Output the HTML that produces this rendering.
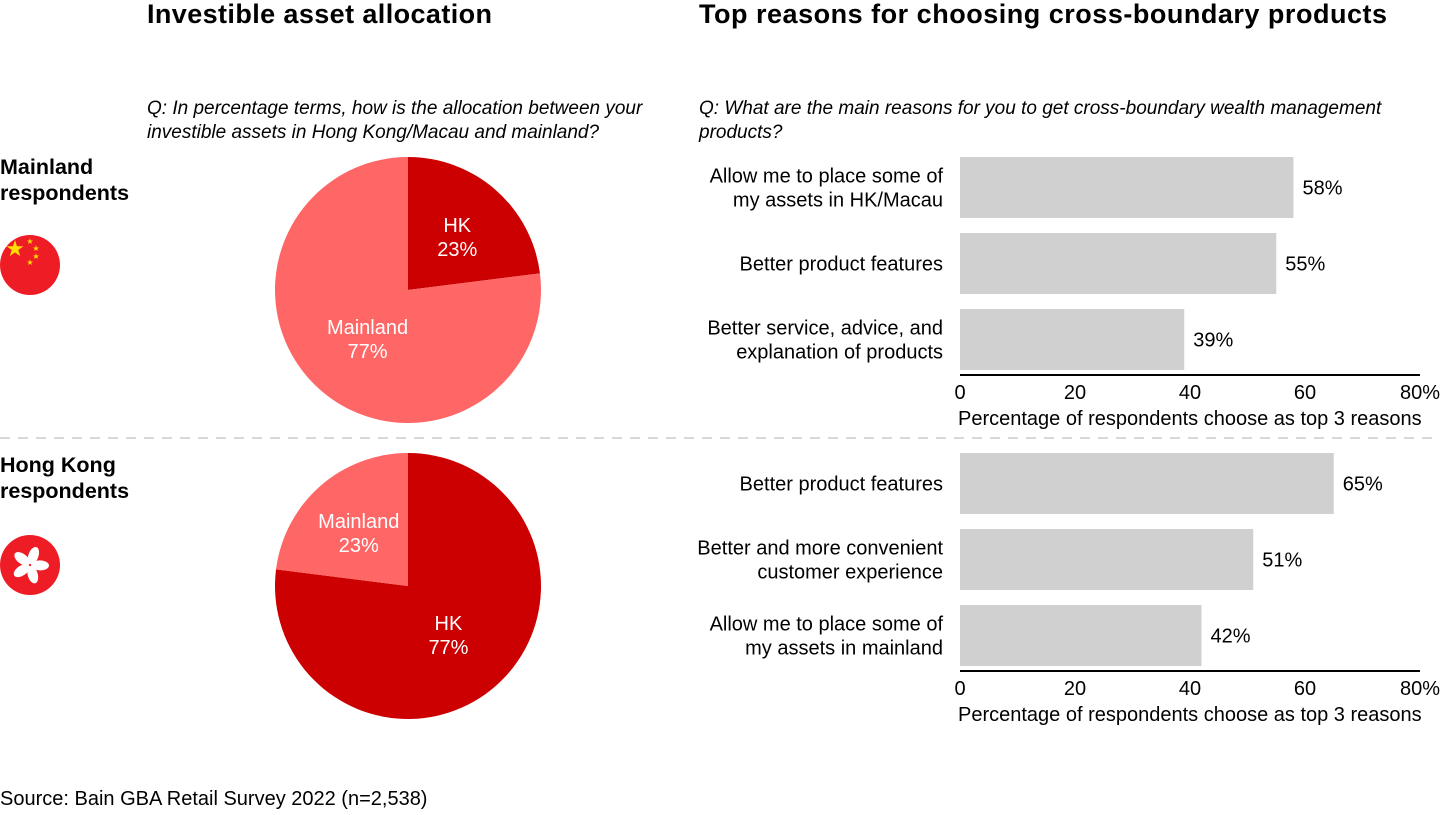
<!DOCTYPE html>
<html><head><meta charset="utf-8"><style>
body{margin:0;width:1440px;height:810px;background:#fff;font-family:"Liberation Sans",sans-serif;overflow:hidden}
svg text{font-family:"Liberation Sans",sans-serif}
</style></head><body>
<svg id="s" width="1440" height="810" xmlns="http://www.w3.org/2000/svg">
<text x="147" y="23" font-size="27" font-weight="bold" textLength="345">Investible asset allocation</text>
<text x="699" y="23" font-size="27" font-weight="bold" textLength="688">Top reasons for choosing cross-boundary products</text>
<text font-size="19" font-style="italic"><tspan x="147" y="114">Q: In percentage terms, how is the allocation between your</tspan><tspan x="147" y="138">investible assets in Hong Kong/Macau and mainland?</tspan></text>
<text font-size="19" font-style="italic"><tspan x="699" y="114">Q: What are the main reasons for you to get cross-boundary wealth management</tspan><tspan x="699" y="138">products?</tspan></text>
<text font-size="21.5" font-weight="bold"><tspan x="0" y="174">Mainland</tspan><tspan x="0" y="200">respondents</tspan></text>
<text font-size="21.5" font-weight="bold"><tspan x="0" y="472">Hong Kong</tspan><tspan x="0" y="498">respondents</tspan></text>
<g>
<circle cx="30" cy="265" r="30" fill="#ee1c25"/>
<text x="15" y="256" font-size="22" fill="#ffde00" text-anchor="middle">★</text>
<text x="30" y="244" font-size="8" fill="#ffde00" text-anchor="middle">★</text>
<text x="36" y="251" font-size="8" fill="#ffde00" text-anchor="middle">★</text>
<text x="36" y="259" font-size="8" fill="#ffde00" text-anchor="middle">★</text>
<text x="30" y="265" font-size="8" fill="#ffde00" text-anchor="middle">★</text>
</g>
<g>
<circle cx="30" cy="565" r="30" fill="#ee1c25"/>
<g fill="#fff">
<ellipse cx="30" cy="555" rx="5" ry="9" transform="rotate(20 30 565)"/>
<ellipse cx="30" cy="555" rx="5" ry="9" transform="rotate(92 30 565)"/>
<ellipse cx="30" cy="555" rx="5" ry="9" transform="rotate(164 30 565)"/>
<ellipse cx="30" cy="555" rx="5" ry="9" transform="rotate(236 30 565)"/>
<ellipse cx="30" cy="555" rx="5" ry="9" transform="rotate(308 30 565)"/>
</g>
</g>
<line x1="0" y1="438" x2="1440" y2="438" stroke="#ccc" stroke-width="1.5" stroke-dasharray="10,8"/>
<g id="pies"></g>
<g id="bars"></g>
<text x="0" y="805" font-size="20">Source: Bain GBA Retail Survey 2022 (n=2,538)</text>
</svg>
<script>
const pieLabels=[["HK","Mainland"],["HK","Mainland"]];
const pieValues1=[23,77];
const pieValues2=[77,23];
const barCats1=[["Allow me to place some of","my assets in HK/Macau"],["Better product features"],["Better service, advice, and","explanation of products"]];
const barVals1=[58,55,39];
const barCats2=[["Better product features"],["Better and more convenient","customer experience"],["Allow me to place some of","my assets in mainland"]];
const barVals2=[65,51,42];
const ticks=[0,20,40,60,80];
const tickLabels=["0","20","40","60","80%"];
const NS="http://www.w3.org/2000/svg";
function mk(tag,attrs,parent){const e=document.createElementNS(NS,tag);for(const k in attrs)e.setAttribute(k,attrs[k]);parent.appendChild(e);return e;}
const pg=document.getElementById('pies'),bg=document.getElementById('bars');
const colors={HK:"#cc0000",Mainland:"#ff6666"};
function pie(cy,vals,labels,idx){
  const cx=408,r=133;let a0=0;const tot=vals.reduce((a,b)=>a+b,0);
  vals.forEach((v,i)=>{
    const a1=a0+v/tot*2*Math.PI;
    const x0=cx+r*Math.sin(a0),y0=cy-r*Math.cos(a0),x1=cx+r*Math.sin(a1),y1=cy-r*Math.cos(a1);
    const large=(a1-a0)>Math.PI?1:0;
    const p=mk('path',{d:`M${cx},${cy}L${x0},${y0}A${r},${r} 0 ${large} 1 ${x1},${y1}Z`,fill:colors[labels[i]]},pg);
    
    
    const am=(a0+a1)/2,lr=r*(v/tot<0.3?0.56:0.46);
    const lx=cx+lr*Math.sin(am),ly=cy-lr*Math.cos(am);
    const t=mk('text',{x:lx,y:ly-2,'font-size':20,fill:'#fff','text-anchor':'middle'},pg);
    
    
    const s1=mk('tspan',{x:lx},t);s1.textContent=labels[i];
    const s2=mk('tspan',{x:lx,dy:24},t);s2.textContent=v+'%';
    a0=a1;
  });
}
pie(290,pieValues1,pieLabels[0],1);
pie(586,pieValues2,pieLabels[1],2);
const X=v=>960+v*5.75;
function bars(top,cats,vals,idx){
  const step=76,bh=61;
  vals.forEach((v,i)=>{
    const y=top+i*step;
    const r=mk('rect',{x:X(0),y:y,width:X(v)-X(0),height:bh,fill:'#d0d0d0'},bg);
    
    
    const t=mk('text',{x:X(v)+9,y:y+bh/2+7,'font-size':20},bg);t.textContent=v+'%';
    
    
    const c=cats[i];const lt=mk('text',{'font-size':20,'text-anchor':'end'},bg);
    
    
    c.forEach((s,j)=>{const ts=mk('tspan',{x:943,y:y+bh/2+7+(j-(c.length-1)/2)*24},lt);ts.textContent=s;});
  });
  const ay=top+3*step-10;
  const l=mk('line',{x1:X(0),x2:X(80),y1:ay,y2:ay,stroke:'#000','stroke-width':2},bg);
  
  
  ticks.forEach((tk,i)=>{const t=mk('text',{x:X(tk),y:ay+24,'font-size':20,'text-anchor':'middle'},bg);t.textContent=tickLabels[i];
    
    });
  const at=mk('text',{x:958,y:ay+50,'font-size':20},bg);at.textContent='Percentage of respondents choose as top 3 reasons';
  
  
}
bars(157,barCats1,barVals1,1);
bars(453,barCats2,barVals2,2);
</script>
</body></html>
